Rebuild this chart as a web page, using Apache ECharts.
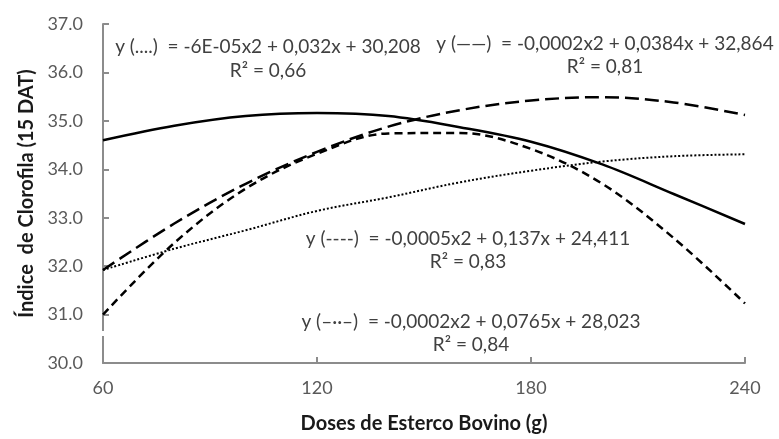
<!DOCTYPE html>
<html>
<head>
<meta charset="utf-8">
<script src="https://cdn.jsdelivr.net/npm/echarts@6/dist/echarts.min.js"></script>
<style>
  html, body { margin: 0; padding: 0; background: #fff; }
  #chart { width: 779px; height: 439px; }
</style>
</head>
<body>
<div id="chart"></div>
<script>
// Doses (x)
const doses = [60, 80, 100, 120, 140, 160, 180, 200, 220, 240];
// Curves
const solidLine  = [34.60, 34.90, 35.10, 35.16, 35.10, 34.87, 34.57, 34.10, 33.49, 32.87];
const longDash   = [31.92, 32.88, 33.70, 34.36, 34.88, 35.22, 35.42, 35.49, 35.38, 35.12];
const shortDash  = [31.00, 32.48, 33.60, 34.32, 34.74, 34.75, 34.42, 33.70, 32.58, 31.23];
const dottedLine = [31.92, 32.36, 32.74, 33.14, 33.42, 33.73, 33.97, 34.16, 34.27, 34.31];
// Axis ticks
const xTicks = [60, 120, 180, 240];
const yTicks = [30, 31, 32, 33, 34, 35, 36, 37];
// Trendline equations
const equations = [
  { line1: 'y (....)  = -6E-05x2 + 0,032x + 30,208', line2: 'R² = 0,66' },
  { line1: 'y (——)  = -0,0002x2 + 0,0384x + 32,864', line2: 'R² = 0,81' },
  { line1: 'y (----)  = -0,0005x2 + 0,137x + 24,411', line2: 'R² = 0,83' },
  { line1: 'y (–··–)  = -0,0002x2 + 0,0765x + 28,023', line2: 'R² = 0,84' }
];

const pairs = arr => doses.map((d, i) => [d, arr[i]]);
const FONT = 'Lato, "Open Sans", sans-serif';
const eqPos = [[268, 47, 71], [605, 44, 67], [468, 239, 262], [471, 322, 345]];

const chart = echarts.init(document.getElementById('chart'));
const mkSeries = (name, data, type, width) => ({
  name, type: 'line', data: pairs(data), smooth: 0.35, symbol: 'none',
  lineStyle: { color: '#000', width, type }, z: 3, animation: false
});

const graphics = [];
equations.forEach((e, i) => {
  const [cx, y1, y2] = eqPos[i];
  graphics.push({ type: 'text', x: cx, y: y1, style: { text: e.line1, align: 'center', verticalAlign: 'middle', font: '19px ' + FONT, fill: '#404040' }, z: 10 });
  graphics.push({ type: 'text', x: cx, y: y2, style: { text: e.line2, align: 'center', verticalAlign: 'middle', font: '19px ' + FONT, fill: '#404040' }, z: 10 });
});
// axis break gap on y-axis
graphics.push({ type: 'rect', shape: { x: 99, y: 331, width: 8, height: 5 }, style: { fill: '#fff' }, z: 20 });

chart.setOption({
  animation: false,
  backgroundColor: '#fff',
  grid: { left: 103, right: 34, top: 24, bottom: 72.5, containLabel: false },
  xAxis: {
    type: 'value', min: xTicks[0], max: xTicks[xTicks.length - 1], interval: 60,
    name: 'Doses de Esterco Bovino (g)', nameLocation: 'middle', nameGap: 51,
    nameTextStyle: { fontFamily: FONT, fontWeight: 'bold', fontSize: 20, color: '#1a1a1a' },
    axisLine: { lineStyle: { color: '#8c8c8c', width: 2 } },
    axisTick: { show: true, inside: true, length: 6, lineStyle: { color: '#8c8c8c', width: 2 } },
    axisLabel: { fontFamily: FONT, fontSize: 18, color: '#595959', margin: 16 },
    splitLine: { show: false }
  },
  yAxis: {
    type: 'value', min: yTicks[0], max: yTicks[yTicks.length - 1], interval: 1,
    name: 'Índice  de Clorofila (15 DAT)', nameLocation: 'middle', nameGap: 66,
    nameTextStyle: { fontFamily: FONT, fontWeight: 'bold', fontSize: 20, color: '#1a1a1a' },
    axisLine: { show: true, lineStyle: { color: '#8c8c8c', width: 2 } },
    axisTick: { show: true, inside: true, length: 6, lineStyle: { color: '#8c8c8c', width: 2 } },
    axisLabel: { fontFamily: FONT, fontSize: 18, color: '#595959', margin: 20, formatter: v => v.toFixed(1) },
    splitLine: { show: false }
  },
  series: [
    mkSeries('solid', solidLine, 'solid', 2.5),
    mkSeries('longDash', longDash, [14, 6], 2.5),
    mkSeries('shortDash', shortDash, [8, 5], 2.5),
    mkSeries('dotted', dottedLine, [2, 2], 2)
  ],
  graphic: graphics
});
</script>
</body>
</html>
